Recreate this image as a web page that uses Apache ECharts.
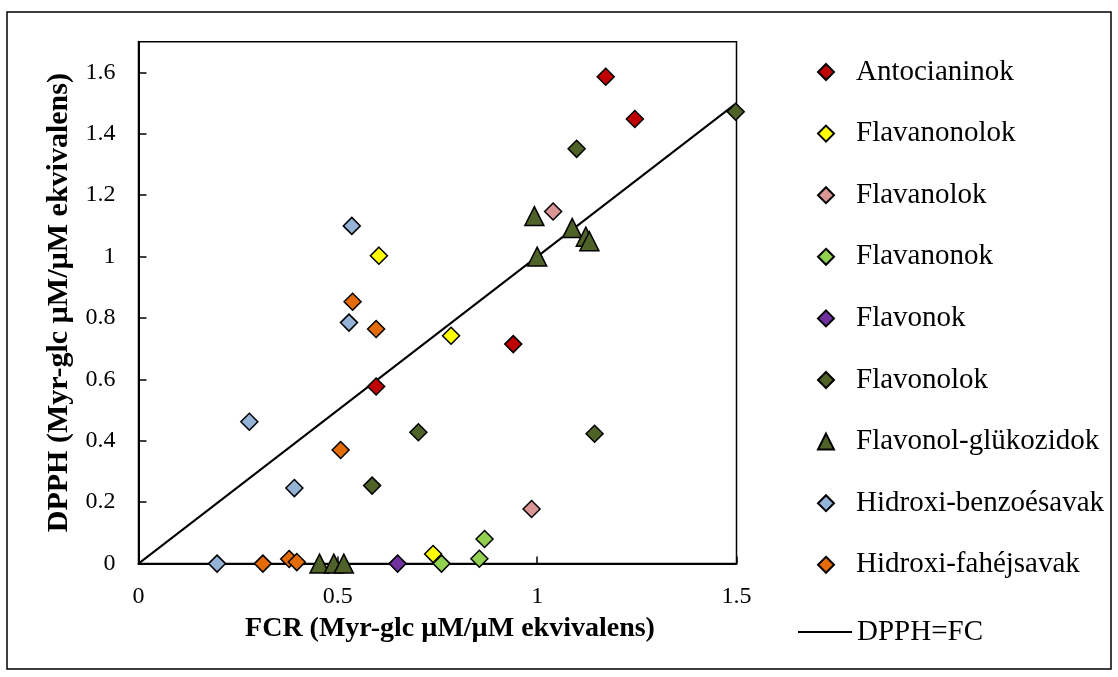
<!DOCTYPE html>
<html>
<head>
<meta charset="utf-8">
<script src="https://cdn.jsdelivr.net/npm/echarts@6/dist/echarts.min.js"></script>
<style>
  html, body { margin: 0; padding: 0; background: #fff; }
  #chart { width: 1118px; height: 677px; }
</style>
</head>
<body>
<div id="chart"></div>
<script>
// FCR (x) and DPPH (y) values per compound class
const antocianinokX = [1.172, 1.245, 0.940, 0.596];
const antocianinokY = [1.586, 1.448, 0.715, 0.577];
const flavanonolokX = [0.603, 0.784, 0.739];
const flavanonolokY = [1.003, 0.742, 0.031];
const flavanolokX = [1.040, 0.986];
const flavanolokY = [1.147, 0.178];
const flavanonokX = [0.760, 0.868, 0.855];
const flavanonokY = [0, 0.080, 0.016];
const flavonokX = [0.650];
const flavonokY = [0];
const flavonolokX = [1.498, 1.099, 1.144, 0.702, 0.586];
const flavonolokY = [1.472, 1.351, 0.423, 0.428, 0.254];
const glukozidokX = [0.993, 1.088, 1.122, 1.131, 1.000, 0.454, 0.490, 0.515];
const glukozidokY = [1.132, 1.093, 1.065, 1.050, 1.000, 0, 0, 0];
const benzoesavakX = [0.535, 0.528, 0.278, 0.391, 0.197];
const benzoesavakY = [1.100, 0.785, 0.462, 0.246, 0];
const fahejsavakX = [0.537, 0.596, 0.507, 0.312, 0.378, 0.397];
const fahejsavakY = [0.853, 0.764, 0.370, 0, 0.015, 0.005];
// reference line DPPH = FC
const egyenesX = [0, 1.5];
const egyenesY = [0, 1.5];

const xTicks = { min: 0, max: 1.5, interval: 0.5 };
const yTicks = { min: 0, max: 1.7, interval: 0.2 };

const FONT = "'Liberation Serif', 'Times New Roman', serif";

const groups = [
  { name: 'Antocianinok', x: antocianinokX, y: antocianinokY, color: '#C00000', symbol: 'diamond' },
  { name: 'Flavanonolok', x: flavanonolokX, y: flavanonolokY, color: '#FFFF00', symbol: 'diamond' },
  { name: 'Flavanolok', x: flavanolokX, y: flavanolokY, color: '#D99694', symbol: 'diamond' },
  { name: 'Flavanonok', x: flavanonokX, y: flavanonokY, color: '#92D050', symbol: 'diamond' },
  { name: 'Flavonok', x: flavonokX, y: flavonokY, color: '#7030A0', symbol: 'diamond' },
  { name: 'Flavonolok', x: flavonolokX, y: flavonolokY, color: '#4F6228', symbol: 'diamond' },
  { name: 'Flavonol-glükozidok', x: glukozidokX, y: glukozidokY, color: '#4F6228', symbol: 'triangle' },
  { name: 'Hidroxi-benzoésavak', x: benzoesavakX, y: benzoesavakY, color: '#95B3D7', symbol: 'diamond' },
  { name: 'Hidroxi-fahéjsavak', x: fahejsavakX, y: fahejsavakY, color: '#E36C09', symbol: 'diamond' }
];

const zip = (xs, ys) => xs.map((v, i) => [v, ys[i]]);

const scatterSeries = groups.map(g => ({
  name: g.name,
  type: 'scatter',
  symbol: g.symbol,
  symbolSize: g.symbol === 'triangle' ? 19 : 17,
  z: 3,
  itemStyle: { color: g.color, borderColor: '#000', borderWidth: 1.5, opacity: 1 },
  data: zip(g.x, g.y)
}));

const lineSeries = {
  name: 'DPPH=FC',
  type: 'line',
  symbol: 'none',
  z: 2,
  lineStyle: { color: '#000', width: 2 },
  itemStyle: { color: '#000' },
  data: zip(egyenesX, egyenesY)
};

const fmt = v => String(+v.toFixed(1));

const chart = echarts.init(document.getElementById('chart'), null, { renderer: 'canvas' });
chart.setOption({
  animation: false,
  backgroundColor: '#fff',
  textStyle: { fontFamily: FONT, color: '#000' },
  graphic: [{
    type: 'rect',
    shape: { x: 7, y: 12, width: 1104, height: 657 },
    style: { fill: 'none', stroke: '#000', lineWidth: 1.5 },
    silent: true,
    z: -1
  }],
  grid: {
    left: 138.5, right: 381.5, top: 41.7, bottom: 113.4,
    show: true, borderColor: '#000', borderWidth: 1.5, backgroundColor: 'transparent'
  },
  xAxis: {
    type: 'value',
    min: xTicks.min, max: xTicks.max, interval: xTicks.interval,
    splitLine: { show: false },
    axisLine: { lineStyle: { color: '#000', width: 2 } },
    axisTick: { inside: true, length: 7, lineStyle: { color: '#000', width: 1.5 } },
    axisLabel: { color: '#000', fontFamily: FONT, fontSize: 24, margin: 21, formatter: fmt },
    name: 'FCR (Myr-glc µM/µM ekvivalens)',
    nameLocation: 'middle',
    nameGap: 51,
    nameTextStyle: { fontFamily: FONT, fontSize: 28, fontWeight: 'bold', color: '#000', padding: [0, 0, 0, 25] }
  },
  yAxis: {
    type: 'value',
    min: yTicks.min, max: yTicks.max, interval: yTicks.interval,
    splitLine: { show: false },
    axisLine: { lineStyle: { color: '#000', width: 2 } },
    axisTick: { inside: true, length: 8, lineStyle: { color: '#000', width: 1.5 } },
    axisLabel: {
      color: '#000', fontFamily: FONT, fontSize: 24, margin: 23,
      showMaxLabel: false,
      formatter: v => (v > 1.65 ? '' : fmt(v))
    },
    name: 'DPPH (Myr-glc µM/µM ekvivalens)',
    nameLocation: 'middle',
    nameGap: 62,
    nameTextStyle: { fontFamily: FONT, fontSize: 30, fontWeight: 'bold', color: '#000' }
  },
  legend: [
    {
      data: groups.map(g => g.name),
      orient: 'vertical',
      left: 817,
      top: 57,
      padding: 0,
      itemWidth: 16,
      itemHeight: 16,
      itemGap: 31.6,
      selectedMode: false,
      textStyle: { fontFamily: FONT, fontSize: 29, color: '#000', lineHeight: 30, padding: [0, 0, 0, 17] }
    },
    {
      data: [{ name: 'DPPH=FC', icon: 'rect' }],
      orient: 'vertical',
      left: 798,
      top: 617,
      padding: 0,
      itemWidth: 54,
      itemHeight: 2,
      selectedMode: false,
      textStyle: { fontFamily: FONT, fontSize: 29, color: '#000', lineHeight: 30 }
    }
  ],
  series: [...scatterSeries, lineSeries]
});
</script>
</body>
</html>
